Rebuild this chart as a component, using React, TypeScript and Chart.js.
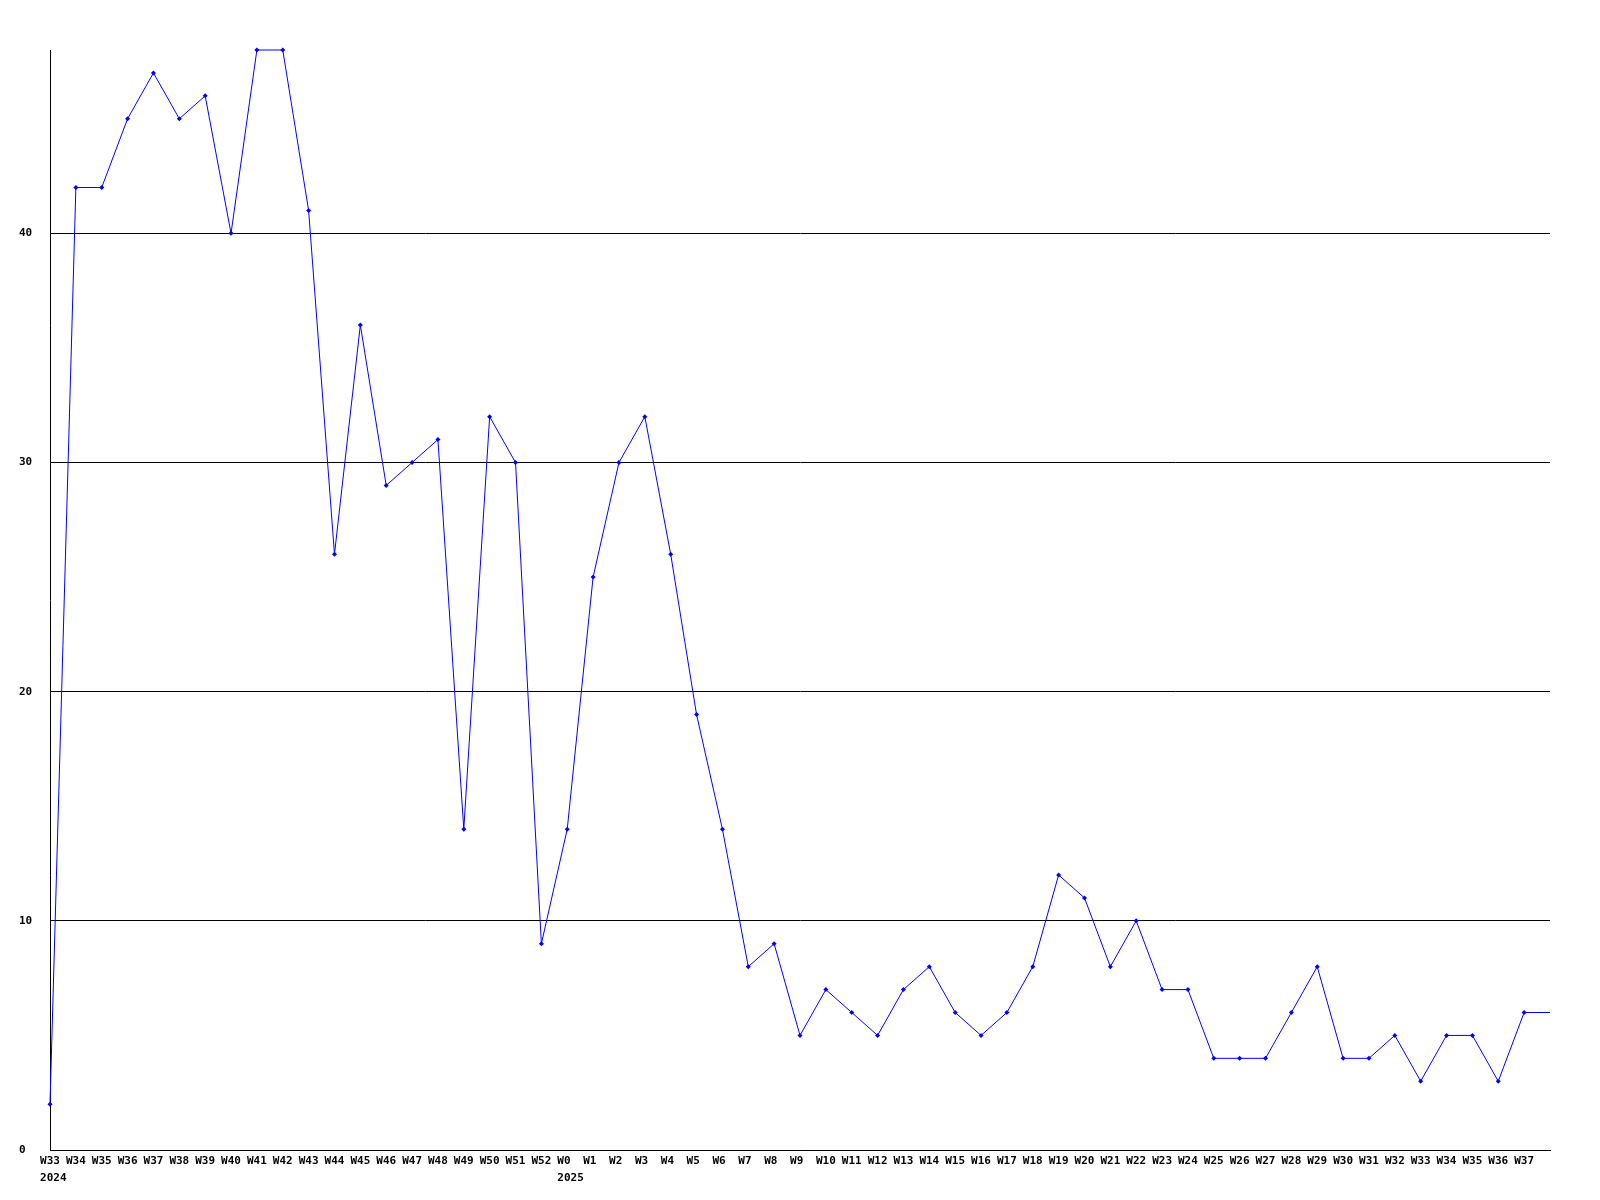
import React, { useEffect, useRef } from "react";
import { Chart, registerables } from "chart.js";

Chart.register(...registerables);

const weekLabels: string[] = [
  "W33", "W34", "W35", "W36", "W37", "W38", "W39", "W40", "W41", "W42",
  "W43", "W44", "W45", "W46", "W47", "W48", "W49", "W50", "W51", "W52",
  "W0", "W1", "W2", "W3", "W4", "W5", "W6", "W7", "W8", "W9",
  "W10", "W11", "W12", "W13", "W14", "W15", "W16", "W17", "W18", "W19",
  "W20", "W21", "W22", "W23", "W24", "W25", "W26", "W27", "W28", "W29",
  "W30", "W31", "W32", "W33", "W34", "W35", "W36", "W37", "",
];

const counts: number[] = [
  2, 42, 42, 45, 47, 45, 46, 40, 48, 48,
  41, 26, 36, 29, 30, 31, 14, 32, 30, 9,
  14, 25, 30, 32, 26, 19, 14, 8, 9, 5,
  7, 6, 5, 7, 8, 6, 5, 6, 8, 12,
  11, 8, 10, 7, 7, 4, 4, 4, 6, 8,
  4, 4, 5, 3, 5, 5, 3, 6, 6,
];

const yearIndices: number[] = [0, 20];
const yearTexts: string[] = ["2024", "2025"];

const yTickValues: number[] = [0, 10, 20, 30, 40];

const FONT = "'DejaVu Sans Mono', monospace";

export default function App() {
  const ref = useRef<HTMLCanvasElement | null>(null);

  useEffect(() => {
    const canvas = ref.current;
    if (!canvas) return;

    const yearPlugin = {
      id: "yearLabels",
      afterDraw(chart: any) {
        const ctx = chart.ctx;
        const xs = chart.scales.x;
        ctx.save();
        ctx.font = `bold 11px ${FONT}`;
        ctx.fillStyle = "#000";
        ctx.textAlign = "left";
        ctx.textBaseline = "middle";
        yearIndices.forEach((idx, i) => {
          const px = xs.getPixelForValue(idx);
          const w = ctx.measureText("W00").width;
          ctx.fillText(yearTexts[i], px - w / 2, 1178);
        });
        ctx.restore();
      },
    };

    const pointRadii = counts.map((_, i) => (weekLabels[i] === "" ? 0 : 2.5));

    const chart = new Chart(canvas, {
      type: "line",
      data: {
        labels: weekLabels,
        datasets: [
          {
            data: counts,
            borderColor: "#0000ff",
            borderWidth: 1,
            backgroundColor: "#0000ff",
            pointBackgroundColor: "#0000ff",
            pointBorderColor: "#0000ff",
            pointBorderWidth: 0,
            pointStyle: "rectRot",
            pointRadius: pointRadii,
            tension: 0,
            fill: false,
            clip: false as any,
          },
        ],
      },
      options: {
        animation: false,
        responsive: false,
        maintainAspectRatio: false,
        layout: { padding: { left: 19, top: 50, right: 50, bottom: 10 } },
        plugins: {
          legend: { display: false },
          tooltip: { enabled: false },
        },
        scales: {
          x: {
            type: "category",
            offset: false,
            grid: { display: false, drawTicks: false },
            border: { display: true, color: "#000", width: 1 },
            ticks: {
              autoSkip: false,
              maxRotation: 0,
              minRotation: 0,
              padding: 5,
              color: "#000",
              font: { family: FONT, size: 11, weight: "bold" },
              callback(value: any) {
                const lbl = weekLabels[value as number] ?? "";
                return lbl.padEnd(3, " ");
              },
            },
            afterFit(scale: any) {
              scale.height = 40;
            },
          },
          y: {
            min: 0,
            max: 48,
            grid: { color: "#000", lineWidth: 1, drawTicks: false },
            border: { display: true, color: "#000", width: 1 },
            ticks: {
              stepSize: 10,
              crossAlign: "far",
              color: "#000",
              font: { family: FONT, size: 11, weight: "bold" },
            },
            afterBuildTicks(scale: any) {
              scale.ticks = yTickValues.map((v) => ({ value: v }));
            },
            afterFit(scale: any) {
              scale.width = 31;
            },
          },
        },
      },
      plugins: [yearPlugin],
    });

    return () => chart.destroy();
  }, []);

  return (
    <div style={{ position: "absolute", left: 0, top: 0, width: 1600, height: 1200, background: "#fff" }}>
      <canvas ref={ref} width={1600} height={1200} style={{ display: "block", width: 1600, height: 1200 }} />
    </div>
  );
}
